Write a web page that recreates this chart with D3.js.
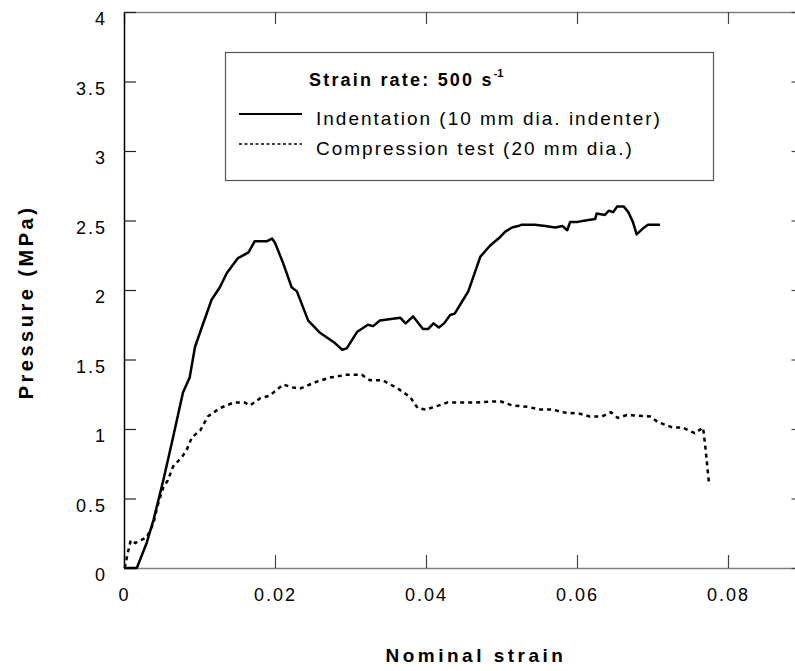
<!DOCTYPE html>
<html>
<head>
<meta charset="utf-8">
<script src="https://cdn.jsdelivr.net/npm/d3@7"></script>
<style>
    body { margin: 0; background: #fff; }
    text { font-family: "Liberation Sans", Arial, sans-serif; fill: #000; }
</style>
</head>
<body>
<script>
//pseudo-global variables
//indentation test (10 mm dia. indenter), strain and pressure in MPa
var indentStrain = [0, 0.0017, 0.003, 0.0039, 0.0052, 0.0065, 0.0078, 0.0087, 0.0094, 0.0103, 0.0116, 0.0127, 0.0136, 0.0151, 0.0165, 0.0173, 0.0189, 0.0196, 0.02, 0.0211, 0.0222, 0.0229, 0.0244, 0.026, 0.0279, 0.0289, 0.0295, 0.0309, 0.0323, 0.033, 0.0339, 0.0366, 0.0373, 0.0383, 0.0396, 0.0403, 0.041, 0.0417, 0.0424, 0.0432, 0.0438, 0.0447, 0.0456, 0.0472, 0.0485, 0.0498, 0.0505, 0.0514, 0.0522, 0.0527, 0.0544, 0.0558, 0.0571, 0.0581, 0.0587, 0.0591, 0.0601, 0.0611, 0.0624, 0.0626, 0.0637, 0.0642, 0.0648, 0.0653, 0.0662, 0.0668, 0.0674, 0.0679, 0.0689, 0.0694, 0.0701, 0.071];
var indentPressure = [0, 0, 0.18, 0.345, 0.63, 0.94, 1.26, 1.37, 1.59, 1.73, 1.93, 2.02, 2.12, 2.23, 2.27, 2.35, 2.35, 2.37, 2.34, 2.19, 2.02, 1.99, 1.78, 1.69, 1.62, 1.57, 1.58, 1.70, 1.75, 1.74, 1.78, 1.80, 1.76, 1.81, 1.72, 1.72, 1.76, 1.73, 1.76, 1.82, 1.83, 1.91, 1.99, 2.24, 2.32, 2.38, 2.42, 2.45, 2.46, 2.47, 2.47, 2.46, 2.45, 2.46, 2.43, 2.49, 2.49, 2.50, 2.51, 2.55, 2.54, 2.57, 2.56, 2.60, 2.60, 2.56, 2.49, 2.40, 2.45, 2.47, 2.47, 2.47];

//compression test (20 mm dia.)
var compStrain = [0.0001, 0.0005, 0.0009, 0.0015, 0.003, 0.0039, 0.0044, 0.0052, 0.0058, 0.0065, 0.0077, 0.0083, 0.009, 0.0101, 0.0111, 0.0127, 0.0145, 0.016, 0.0167, 0.018, 0.0193, 0.0211, 0.0222, 0.0233, 0.0246, 0.0255, 0.0273, 0.0295, 0.0315, 0.0326, 0.0343, 0.0363, 0.0379, 0.0389, 0.0399, 0.0412, 0.0428, 0.0462, 0.0498, 0.0514, 0.0534, 0.0551, 0.0568, 0.0581, 0.0604, 0.0617, 0.0633, 0.0645, 0.0654, 0.0666, 0.0697, 0.0707, 0.0727, 0.074, 0.0756, 0.0767, 0.077, 0.0775];
var compPressure = [0, 0.11, 0.2, 0.18, 0.22, 0.32, 0.44, 0.58, 0.63, 0.73, 0.80, 0.85, 0.94, 0.99, 1.09, 1.15, 1.19, 1.19, 1.17, 1.22, 1.24, 1.32, 1.30, 1.29, 1.32, 1.34, 1.37, 1.39, 1.39, 1.35, 1.35, 1.29, 1.23, 1.15, 1.14, 1.16, 1.19, 1.19, 1.20, 1.17, 1.16, 1.14, 1.14, 1.12, 1.11, 1.09, 1.09, 1.12, 1.08, 1.10, 1.09, 1.05, 1.01, 1.01, 0.97, 1.01, 0.87, 0.60];

var xTicks = [0, 0.02, 0.04, 0.06, 0.08];
var yTicks = [0, 0.5, 1, 1.5, 2, 2.5, 3, 3.5, 4];
var legendLabels = ["Indentation (10 mm dia. indenter)", "Compression test (20 mm dia.)"];

//begin script
drawChart();

function drawChart(){

    var width = 795,
        height = 671;

    var svg = d3.select("body")
        .append("svg")
        .attr("width", width)
        .attr("height", height);

    //scales, right frame falls just outside the window
    var x = d3.scaleLinear()
        .domain([0, 0.09])
        .range([124, 803.5]);

    var y = d3.scaleLinear()
        .domain([0, 4])
        .range([568, 12]);

    //inward ticks on all four sides
    var bottom = svg.append("g")
        .attr("transform", "translate(0,568)")
        .call(d3.axisBottom(x).tickValues(xTicks).tickSize(-13).tickSizeOuter(0).tickPadding(20)
            .tickFormat(function(d){ return d === 0 ? "0" : d3.format(".2f")(d); }));

    var top = svg.append("g")
        .attr("transform", "translate(0,12)")
        .call(d3.axisTop(x).tickValues(xTicks).tickSize(-12).tickSizeOuter(0).tickFormat(""));

    var right = svg.append("g")
        .attr("transform", "translate(803.5,0)")
        .call(d3.axisRight(y).tickValues(yTicks).tickSize(-12).tickSizeOuter(0).tickFormat(""));

    var left = svg.append("g")
        .attr("transform", "translate(124,0)")
        .call(d3.axisLeft(y).tickValues(yTicks).tickSize(-12).tickSizeOuter(0).tickPadding(17)
            .tickFormat(function(d){ return String(d); }));

    [bottom, top, right].forEach(function(g){
        g.select(".domain").attr("stroke", "#808080").attr("stroke-width", 1.5);
        g.selectAll(".tick line").attr("stroke", "#444").attr("stroke-width", 1.2);
    });
    left.select(".domain").attr("stroke", "#000").attr("stroke-width", 1.5);
    left.selectAll(".tick line").attr("stroke", "#222").attr("stroke-width", 1.2);

    svg.selectAll(".tick text")
        .attr("font-size", 18)
        .attr("font-family", "Liberation Sans, Arial, sans-serif")
        .attr("letter-spacing", 2)
        .attr("fill", "#000");
    left.selectAll(".tick text").attr("dy", "0.72em");

    //line generator
    var line = d3.line()
        .x(function(d){ return x(d[0]); })
        .y(function(d){ return y(d[1]); });

    var indent = d3.zip(indentStrain, indentPressure);
    var comp = d3.zip(compStrain, compPressure);

    svg.append("path")
        .datum(indent)
        .attr("d", line)
        .attr("fill", "none")
        .attr("stroke", "#000")
        .attr("stroke-width", 2.5)
        .attr("stroke-linejoin", "round");

    svg.append("path")
        .datum(comp)
        .attr("d", line)
        .attr("fill", "none")
        .attr("stroke", "#000")
        .attr("stroke-width", 2.5)
        .attr("stroke-dasharray", "4,4");

    //legend box
    var legend = svg.append("g");
    legend.append("rect")
        .attr("x", 225.5)
        .attr("y", 52.5)
        .attr("width", 488)
        .attr("height", 128)
        .attr("fill", "#fff")
        .attr("stroke", "#555")
        .attr("stroke-width", 1.2);

    var title = legend.append("text")
        .attr("x", 309)
        .attr("y", 86)
        .attr("font-size", 18)
        .attr("font-weight", "bold")
        .attr("letter-spacing", 2.2)
        .text("Strain rate: 500 s");
    title.append("tspan")
        .attr("dy", -9)
        .attr("font-size", 11)
        .attr("letter-spacing", 0)
        .text("-1");

    legend.selectAll(".legLine")
        .data(legendLabels)
        .enter()
        .append("line")
        .attr("class", "legLine")
        .attr("x1", 239)
        .attr("x2", 302)
        .attr("y1", function(d, i){ return 114 + i * 30; })
        .attr("y2", function(d, i){ return 114 + i * 30; })
        .attr("stroke", "#000")
        .attr("stroke-width", function(d, i){ return i === 0 ? 2 : 1.5; })
        .attr("stroke-dasharray", function(d, i){ return i === 0 ? null : "3,2.5"; });

    legend.selectAll(".legText")
        .data(legendLabels)
        .enter()
        .append("text")
        .attr("class", "legText")
        .attr("x", 316)
        .attr("y", function(d, i){ return 125 + i * 30; })
        .attr("font-size", 19)
        .attr("letter-spacing", 2)
        .text(function(d){ return d; });

    //axis titles
    svg.append("text")
        .attr("transform", "translate(33,302) rotate(-90)")
        .attr("text-anchor", "middle")
        .attr("font-size", 20)
        .attr("font-weight", "bold")
        .attr("letter-spacing", 3.5)
        .text("Pressure (MPa)");

    svg.append("text")
        .attr("x", 476)
        .attr("y", 662)
        .attr("text-anchor", "middle")
        .attr("font-size", 19)
        .attr("font-weight", "bold")
        .attr("letter-spacing", 3.5)
        .text("Nominal strain");
};
</script>
</body>
</html>
